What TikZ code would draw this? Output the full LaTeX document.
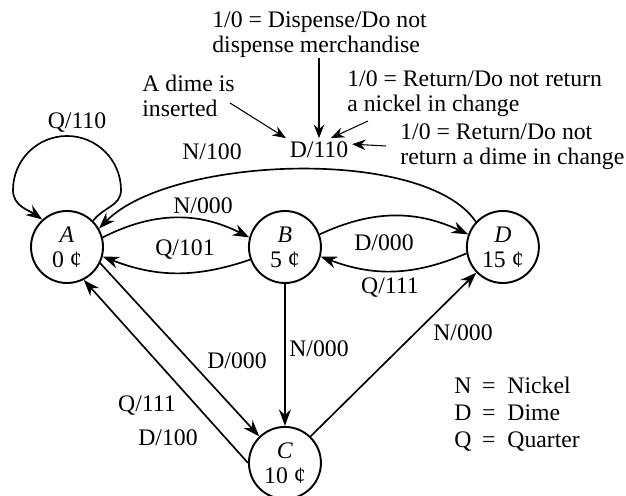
\documentclass[tikz,border=0pt]{standalone}
\usepackage{fontspec}
\setmainfont{Liberation Serif}
\usetikzlibrary{arrows.meta, positioning}

\begin{document}
\begin{tikzpicture}[x=0.2mm, y=0.2mm,
    font=\fontsize{13.5pt}{14.3pt}\selectfont,
    coin/.style={draw, circle, line width=1.1pt, minimum size=14.4mm, inner sep=0pt, align=center},
    move/.style={line width=0.95pt, -{Stealth[length=3.3mm, width=2.4mm, inset=1.1mm]}},
    note/.style={line width=0.6pt, -{Stealth[length=2.7mm, width=2.1mm, inset=0.9mm]}},
    lbl/.style={inner sep=0pt},
    txt/.style={inner sep=0pt, align=left, anchor=west}]
  \useasboundingbox (0,0) rectangle (626,496);

  \node[coin] (A) at (67,249) {\textit{A}\\0 ¢};
  \node[coin, right=28.8mm of A] (B) {\textit{B}\\5 ¢};
  \node[coin, right=28.8mm of B] (D) {\textit{D}\\15 ¢};
  \node[coin, below=28.4mm of B] (C) {\textit{C}\\10 ¢};

  \node[txt] (t1) at (212,461) {1/0 = Dispense/Do not\\dispense merchandise};
  \node[txt] (t2) at (142,400) {A dime is\\inserted};
  \node[txt] (t3) at (347,402) {1/0 = Return/Do not return\\a nickel in change};
  \node[txt] (t4) at (400,349) {1/0 = Return/Do not\\return a dime in change};
  \node[lbl, inner sep=2pt] (out) at (319,346) {D/110};

  \coordinate (p1) at (230,393);
  \coordinate (p2) at (368,375);
  \coordinate (p3) at (386,350);
  \draw[note] (t1.south -| out.north) -- (out.north);
  \draw[note] (p1) -- (out.north west);
  \draw[note] (p2) -- (out.45);
  \draw[note] (p3) -- (out.10);

  \draw[move] (A.45) to[out=55, in=-90] (121,306)
    arc[start angle=0, end angle=180, radius=54] to[out=-90, in=145] (A.132);
  \draw[move] (D.137) .. controls (425,350) and (170,340) .. (A.30);
  \draw[move] (A.15) to[bend left=27] (B.165);
  \draw[move] (B.200) to[bend left=20] (A.-15);
  \draw[move] (B.20) to[bend left=25] (D.160);
  \draw[move] (D.190) to[bend left=22] (B.-15);
  \draw[move] (A.-26) -- (C.134);
  \draw[move] (C.180) -- (A.-63);
  \draw[move] (B) -- (C);
  \draw[move] (C.46) -- (D.-136);

  \node[lbl] (q0) at (77,373) {Q/110};
  \node[lbl] (n1) at (212,344) {N/100};
  \node[lbl] (n0) at (203,290) {N/000};
  \node[lbl] (q1) at (185,246) {Q/101};
  \node[lbl] (d0) at (384,253) {D/000};
  \node[lbl] (q3) at (390,208) {Q/111};
  \node[lbl] (d1) at (237,135) {D/000};
  \node[lbl] (n2) at (319,147) {N/000};
  \node[lbl] (q2) at (147,90) {Q/111};
  \node[lbl] (d2) at (168,58) {D/100};
  \node[lbl] (n3) at (463,163) {N/000};

  \node[txt] (key) at (454,81) {\renewcommand{\arraystretch}{1.08}%
    \begin{tabular}{@{}l@{\hspace{0.45em}=\hspace{0.5em}}l@{}}
      N & Nickel\\ D & Dime\\ Q & Quarter
    \end{tabular}};
\end{tikzpicture}
\end{document}
